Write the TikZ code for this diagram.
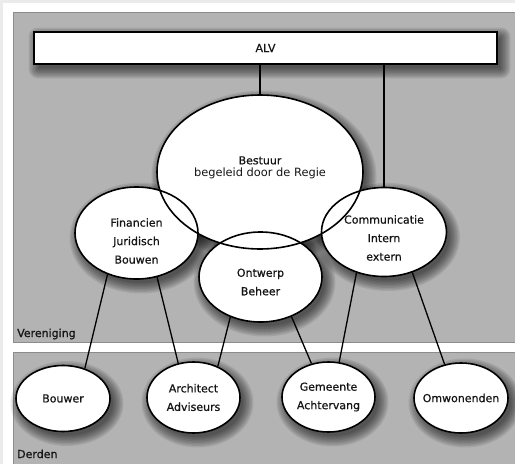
\documentclass[tikz,border=0pt]{standalone}
\usepackage{fontspec}
\setmainfont{DejaVu Sans}
\newfontfamily\boxfont[FakeBold=0.7]{DejaVu Sans}
\usetikzlibrary{shapes.geometric}
\definecolor{pagegray}{HTML}{EBEBEB}
\definecolor{panelgray}{HTML}{B3B3B3}
\definecolor{panelline}{HTML}{8C8C8C}
\definecolor{ink}{HTML}{151515}

\begin{document}
\begin{tikzpicture}[x=1pt,y=-1pt,
  bubble/.style={ellipse,draw=black,line width=1.6pt,inner sep=0pt},
  txt/.style={font=\boxfont\fontsize{11}{18.5}\selectfont,text=ink,align=center},
  link/.style={draw=black,line width=1.3pt},
  panel/.style={fill=panelgray,draw=panelline,line width=0.8pt},
  tag/.style={anchor=base west,font=\boxfont\fontsize{11}{12}\selectfont,text=ink,inner sep=0pt},
  haze/.style={fill=black,opacity=0.085},
]
\path[use as bounding box] (0,0) rectangle (515,464);

% page and the two panels
\fill[pagegray] (0,0) rectangle (515,464);
\fill[white] (3,3) rectangle (515,464);
\draw[panel] (13.5,12.5) rectangle (530,342);
\draw[panel] (13.5,352.5) rectangle (530,480);

\node[tag] (vereniging) at (17,337) {Vereniging};
\node[tag] (derden) at (17,458) {Derden};

% soft shadows (stacked translucent layers), offset to the lower right
\foreach \k in {1,...,8}{
  \pgfmathsetmacro\grow{11-1.5*\k}
  \fill[haze,rounded corners=\grow pt]
    (34+4-\grow,32+5-\grow) rectangle (497+4+\grow,64+5+\grow);
}
\foreach \cx/\cy/\rx/\ry in {260/172/103/77, 136.5/233/61.5/46, 384/232/62.5/44.5,
    260.5/277/61.5/45, 63/398.5/47/33, 193.5/397.5/46.5/35.5, 328.5/397/46.5/35,
    461/398/47/35}{
  \foreach \k in {1,...,8}{
    \pgfmathsetmacro\sx{\rx+11-1.5*\k}
    \pgfmathsetmacro\sy{\ry+11-1.5*\k}
    \fill[haze] (\cx+4,\cy+5) ellipse [x radius=\sx pt,y radius=\sy pt];
  }
}
% white faces, laid before any outline so every outline stays visible
\foreach \cx/\cy/\rx/\ry in {260/172/103/77, 136.5/233/61.5/46, 384/232/62.5/44.5,
    260.5/277/61.5/45, 63/398.5/47/33, 193.5/397.5/46.5/35.5, 328.5/397/46.5/35,
    461/398/47/35}{
  \fill[white] (\cx,\cy) ellipse [x radius=\rx pt,y radius=\ry pt];
}

% general assembly
\node[draw=black,fill=white,line width=1.6pt,minimum width=463pt,minimum height=32pt,
      inner sep=0pt,txt] (alv) at (265.5,48) {ALV};

% association
\node[bubble,minimum width=206pt,minimum height=154pt,
  label={[txt,font=\boxfont\fontsize{11}{12}\selectfont,yshift=4.5pt]center:{Bestuur\\{\normalfont\fontsize{11.4}{12}\selectfont begeleid door de Regie}}}]
  (bestuur) at (260,172) {};
\node[bubble,minimum width=123pt,minimum height=92pt,
  label={[txt,yshift=-8pt]center:{Financien\\Juridisch\\Bouwen}}]
  (fin) at (136.5,233) {};
\node[bubble,minimum width=125pt,minimum height=89pt,
  label={[txt,yshift=-6pt]center:{Communicatie\\Intern\\extern}}]
  (com) at (384,232) {};
\node[bubble,minimum width=123pt,minimum height=90pt,
  label={[txt,yshift=-5pt]center:{Ontwerp\\Beheer}}]
  (ont) at (260.5,277) {};

% third parties
\node[bubble,minimum width=94pt,minimum height=66pt,
  label={[txt]center:{Bouwer}}] (bouwer) at (63,398.5) {};
\node[bubble,minimum width=93pt,minimum height=71pt,
  label={[txt]center:{Architect\\Adviseurs}}] (arch) at (193.5,397.5) {};
\node[bubble,minimum width=93pt,minimum height=70pt,
  label={[txt]center:{Gemeente\\Achtervang}}] (gem) at (328.5,397) {};
\node[bubble,minimum width=94pt,minimum height=70pt,
  label={[txt]center:{Omwonenden}}] (omw) at (461,398) {};

% connectors
\draw[link] (alv.south -| bestuur.north) -- (bestuur.north);
\draw[link] (alv.south -| com.north) -- (com.north);
\draw[link] (fin.235) -- (bouwer.54);
\draw[link] (fin.295) -- (arch.114);
\draw[link] (ont.233) -- (arch.52);
\draw[link] (ont.308) -- (gem.117);
\draw[link] (com.236) -- (gem.73);
\draw[link] (com.305) -- (omw.116);
\end{tikzpicture}
\end{document}
